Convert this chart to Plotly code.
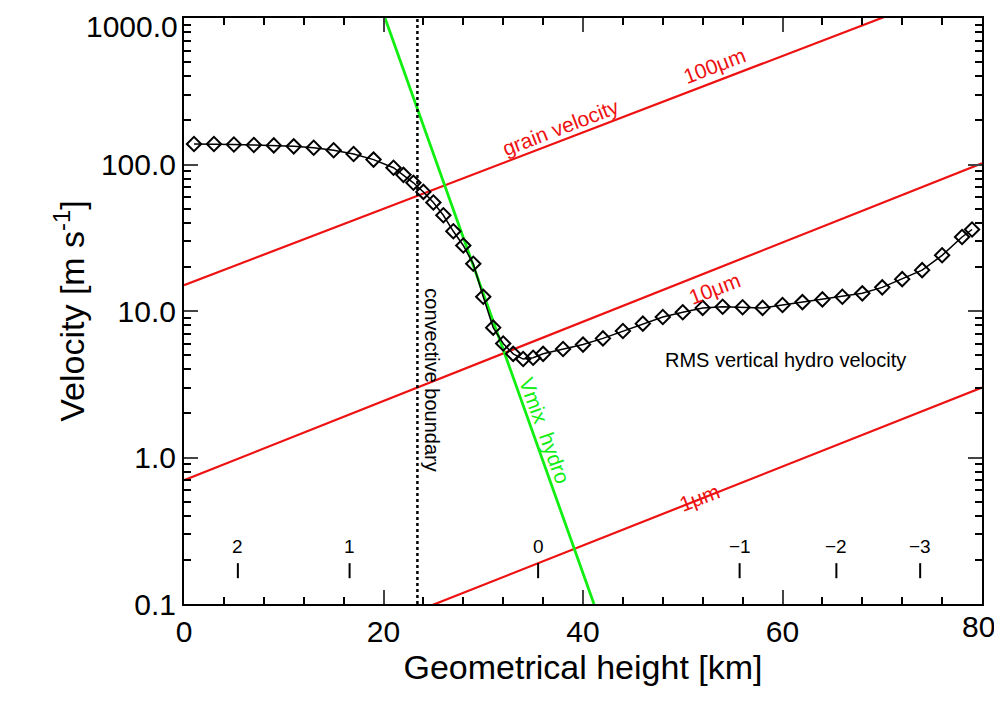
import plotly.graph_objects as go
import numpy as np

height = [1,3,5,7,9,11,13,15,17,19,21,22,23,24,25,26,27,28,29,30,31,32,33,34,35,36,38,40,42,44,46,48,50,52,54,56,58,60,62,64,66,68,70,72,74,76,78,79]
rms = [138,138,137,136,135,133,130,125,118,108,95,85,75,65,55,45,35,28,21,12.5,7.7,6,5.1,4.7,4.8,5.1,5.5,5.9,6.5,7.3,8.2,9.1,9.8,10.5,10.7,10.6,10.5,11,11.5,12,12.5,13.2,14.5,16.5,19,24,32,36]

grain_x = [0, 80]
grain_100 = [15, 1830]
grain_10 = [0.7, 102]
grain_1 = [0.021, 3.0]
vmix_x = [20.15, 41.1]
vmix_y = [1000, 0.1]
boundary_x = 23.4
top_pos = [5.4, 16.6, 35.5, 55.7, 65.4, 73.8]
top_lab = ["2", "1", "0", "\u22121", "\u22122", "\u22123"]
minor_y = [m * 10.0 ** e for e in range(-1, 3) for m in range(2, 10)]
x_ticks = [0, 20, 40, 60, 80]
y_ticks = [0.1, 1, 10, 100, 1000]
y_ticktext = ["0.1", "1.0", "10.0", "100.0", "1000.0"]

red = "#ee1111"; green = "#11ee11"
F = "Liberation Sans, Arial, sans-serif"
fig = go.Figure()
for yy in (grain_100, grain_10, grain_1):
    fig.add_trace(go.Scatter(x=grain_x, y=yy, mode="lines", line=dict(color=red, width=2.2)))
fig.add_trace(go.Scatter(x=vmix_x, y=vmix_y, mode="lines", line=dict(color=green, width=2.8)))
fig.add_trace(go.Scatter(x=[boundary_x, boundary_x], y=[0.1, 1000], mode="lines", line=dict(color="black", width=2.5, dash="dot")))
fig.add_trace(go.Scatter(x=height, y=rms, mode="lines+markers", line=dict(color="black", width=1.5),
                         marker=dict(symbol="diamond-open", size=11, color="black", line=dict(width=2))))
for p, l in zip(top_pos, top_lab):
    fig.add_trace(go.Scatter(x=[p, p], y=[0.15, 0.19], mode="lines", line=dict(color="black", width=2)))
    fig.add_annotation(x=p, y=np.log10(0.245), text=l, showarrow=False, font=dict(size=19, color="black", family=F))

def ann(x, y, t, c, ang=0, s=21):
    fig.add_annotation(x=x, y=np.log10(y), text=t, showarrow=False, textangle=ang, font=dict(size=s, color=c, family=F))
ann(53.2, 475, "100\u03bcm", red, -21)
ann(37.7, 180, "grain velocity", red, -21)
ann(53.2, 14.3, "10\u03bcm", red, -21)
ann(51.7, 0.53, "1\u03bcm", red, -21)
ann(60.3, 4.6, "RMS vertical hydro velocity", "black", 0, 20)
ann(36.2, 1.54, "Vmix  hydro", green, 70)
ann(24.9, 3.4, "convective boundary", "black", 90, 20)

fig.add_annotation(x=x_ticks[-1], xref="x", y=0, yref="paper", yanchor="top", yshift=-4, xshift=-4, text="80",
                   showarrow=False, font=dict(size=30, family=F, color="black"))
fig.add_annotation(x=0, xref="paper", xanchor="right", xshift=-4, y=np.log10(y_ticks[-1]), yshift=-8, text=y_ticktext[-1],
                   showarrow=False, font=dict(size=30, family=F, color="black"))

fig.update_layout(width=994, height=692, showlegend=False, plot_bgcolor="white", paper_bgcolor="white",
                  margin=dict(l=176, r=20, t=10, b=96), font=dict(family=F, color="black"))
fig.update_xaxes(range=[0, 80], tickvals=x_ticks, ticktext=["0", "20", "40", "60", ""], ticks="inside", ticklen=14, tickwidth=2, automargin=False,
                 minor=dict(dtick=4, ticks="inside", ticklen=7, tickwidth=1.5, tickcolor="black"),
                 showline=True, linewidth=2, linecolor="black", mirror="allticks", showgrid=False, zeroline=False,
                 tickfont=dict(size=30), title=dict(text="Geometrical height [km]", font=dict(size=34), standoff=6))
fig.update_yaxes(type="log", range=[-1, 3], tickvals=y_ticks, automargin=False,
                 ticktext=y_ticktext[:-1] + [""], ticks="inside", ticklen=14, tickwidth=2,
                 minor=dict(tickvals=minor_y, ticks="inside", ticklen=7, tickwidth=1.5, tickcolor="black", showgrid=False),
                 showline=True, linewidth=2, linecolor="black", mirror="allticks", showgrid=False, zeroline=False,
                 tickfont=dict(size=30), title=dict(text="Velocity [m s<sup>-1</sup>]", font=dict(size=34), standoff=6))
fig.write_html("out.html")
